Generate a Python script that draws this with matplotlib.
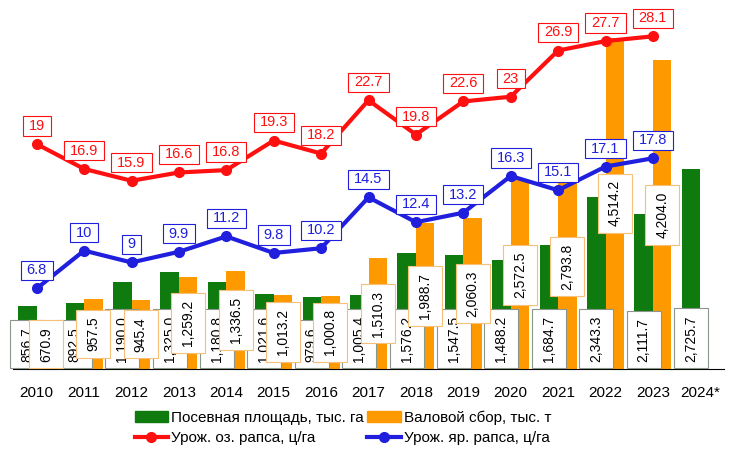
"""
rapeseed: sown area, gross harvest and yields 2010-2024
"""

import numpy as np
import matplotlib.pyplot as plt
from matplotlib.lines import Line2D
from matplotlib.patches import Patch
from matplotlib.path import Path

plt.rcParams["font.family"] = ["Liberation Sans", "DejaVu Sans"]

years = ["2010", "2011", "2012", "2013", "2014", "2015", "2016", "2017",
         "2018", "2019", "2020", "2021", "2022", "2023", "2024*"]
area = [856.7, 892.5, 1190.0, 1325.0, 1180.8, 1021.6, 979.6, 1005.4,
        1576.2, 1547.5, 1488.2, 1684.7, 2343.3, 2111.7, 2725.7]
harvest = [670.9, 957.5, 945.4, 1259.2, 1336.5, 1013.2, 1000.8, 1510.3,
           1988.7, 2060.3, 2572.5, 2793.8, 4514.2, 4204.0, np.nan]
yield_winter = [19, 16.9, 15.9, 16.6, 16.8, 19.3, 18.2, 22.7,
                19.8, 22.6, 23, 26.9, 27.7, 28.1, np.nan]
yield_spring = [6.8, 10, 9, 9.9, 11.2, 9.8, 10.2, 14.5,
                12.4, 13.2, 16.3, 15.1, 17.1, 17.8, np.nan]

GREEN = "#0f7b0f"
ORANGE = "#ff9900"
RED = "#ff1010"
BLUE = "#1f1fdd"


def rect_box(padx, pady):
    # square box with separate padding along and across the text
    def box(x0, y0, width, height, mutation_size):
        px, py = padx * mutation_size, pady * mutation_size
        return Path.unit_rectangle().transformed(
            plt.matplotlib.transforms.Affine2D()
            .scale(width + 2 * px, height + 2 * py)
            .translate(x0 - px, y0 - py))
    return box


BAR_FS = 10
BAR_PADX, BAR_PADY = 0.48, 0.72

fig = plt.figure(figsize=(7.4, 4.54), dpi=100)
ax = fig.add_axes([13 / 740, 85 / 454, 711 / 740, 367 / 454])
ax2 = ax.twinx()

x = np.arange(len(years))
w = 0.39

ax.bar(x - w / 2, area, w, color=GREEN, zorder=2)
ax.bar(x + w / 2, harvest, w, color=ORANGE, zorder=2)

# bar labels: area at the base, harvest in the middle
for i, v in enumerate(area):
    ax.annotate(f"{v:,.1f}", (x[i] - w / 2, 0),
                xytext=(0, BAR_PADX * BAR_FS + 0.5),
                textcoords="offset points", rotation=90, ha="center",
                va="bottom", fontsize=BAR_FS, zorder=3,
                bbox=dict(boxstyle=rect_box(BAR_PADX, BAR_PADY), fc="white",
                          ec="#8a968a", lw=0.8))
for i, v in enumerate(harvest):
    if np.isnan(v):
        continue
    ax.annotate(f"{v:,.1f}", (x[i] + w / 2, v / 2), rotation=90,
                ha="center", va="center", fontsize=BAR_FS, zorder=4,
                bbox=dict(boxstyle=rect_box(BAR_PADX, BAR_PADY), fc="white",
                          ec="#f7c07a", lw=0.8))

# yield lines on the secondary axis
ax2.plot(x, yield_winter, color=RED, lw=3, marker="o", ms=7, zorder=5)
ax2.plot(x, yield_spring, color=BLUE, lw=3, marker="o", ms=7, zorder=5)
for series, col in [(yield_winter, RED), (yield_spring, BLUE)]:
    for i, v in enumerate(series):
        if np.isnan(v):
            continue
        ax2.annotate(f"{v:g}", (x[i], v), xytext=(0, 13),
                     textcoords="offset points", ha="center", va="center",
                     fontsize=10.5, color=col, zorder=6,
                     bbox=dict(boxstyle=rect_box(0.4, 0.18), fc="white",
                               ec=col, lw=0.8))

ax.set_xlim(-0.5, len(years) - 0.5)
ax.set_ylim(0, 5000)
ax2.set_ylim(0, 31)

ax.set_xticks(x, years)
ax.tick_params(axis="x", length=0, pad=12, labelsize=11)
ax.tick_params(axis="y", left=False, labelleft=False)
ax2.tick_params(axis="y", right=False, labelright=False)
for a in (ax, ax2):
    for s in ("left", "right", "top"):
        a.spines[s].set_visible(False)
ax.spines["bottom"].set_color("black")
ax2.spines["bottom"].set_visible(False)

handles = [
    Patch(color=GREEN, label="Посевная площадь, тыс. га"),
    Line2D([], [], color=RED, lw=3, marker="o", ms=7,
           label="Урож. оз. рапса, ц/га"),
    Patch(color=ORANGE, label="Валовой сбор, тыс. т"),
    Line2D([], [], color=BLUE, lw=3, marker="o", ms=7,
           label="Урож. яр. рапса, ц/га"),
]
fig.legend(handles=handles, ncol=2, loc="center",
           bbox_to_anchor=(343 / 740, 0.058), frameon=False, fontsize=11,
           handlelength=2.2, handleheight=0.7, columnspacing=0.2,
           handletextpad=0.2, labelspacing=0.4, numpoints=1)

fig.savefig("out.png", dpi=100)
